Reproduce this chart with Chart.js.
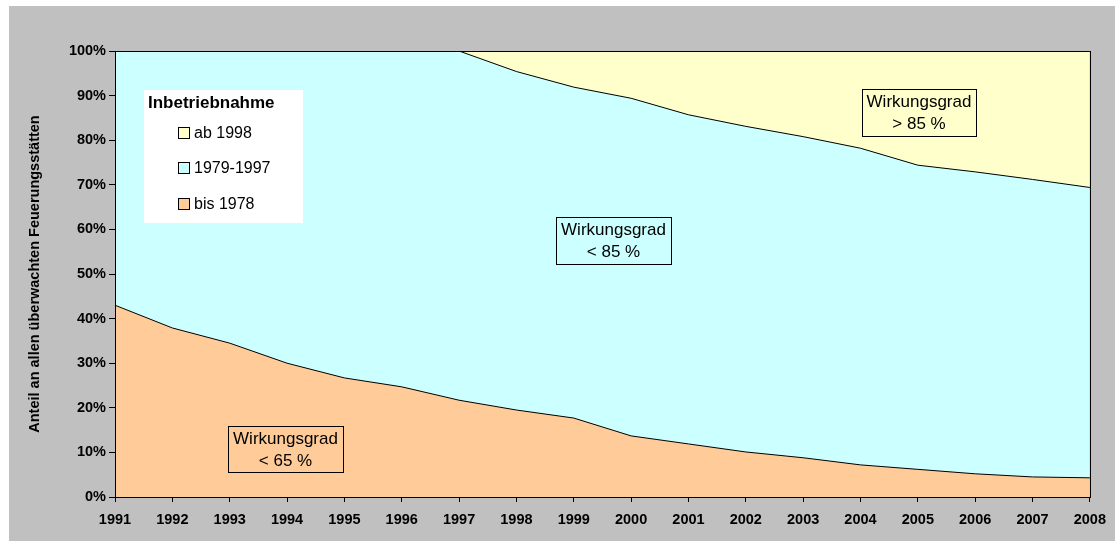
<!DOCTYPE html>
<html>
<head>
<meta charset="utf-8">
<script src="https://cdn.jsdelivr.net/npm/chart.js@4"></script>
<style>
  html, body { margin: 0; padding: 0; background: #ffffff; }
  #wrap { width: 1115px; height: 541px; position: relative; }
</style>
</head>
<body>
<div id="wrap"><canvas id="chart"></canvas></div>
<script>
// Jahre
var years = ['1991', '1992', '1993', '1994', '1995', '1996', '1997', '1998', '1999',
             '2000', '2001', '2002', '2003', '2004', '2005', '2006', '2007', '2008'];

// Anteile in %
var bis1978 = [43.0, 37.9, 34.5, 30.0, 26.7, 24.7, 21.7, 19.5, 17.7,
               13.7, 11.9, 10.1, 8.8, 7.2, 6.2, 5.2, 4.5, 4.3];
var ab1998 = [0, 0, 0, 0, 0, 0, 0, 4.6, 8.1,
              10.6, 14.3, 16.9, 19.2, 21.8, 25.6, 27.1, 28.8, 30.6];
var von1979bis1997 = bis1978.map(function (v, i) { return 100 - v - ab1998[i]; });

var yTicks = [0, 10, 20, 30, 40, 50, 60, 70, 80, 90, 100];

var notes = [
    { lines: ['Wirkungsgrad', '< 65 %'], x: 228, y: 426, w: 115, h: 46 },
    { lines: ['Wirkungsgrad', '< 85 %'], x: 556, y: 217, w: 115, h: 47 },
    { lines: ['Wirkungsgrad', '> 85 %'], x: 862, y: 89, w: 114, h: 47 }
];

// grauer Hintergrund + Rahmen der Zeichenfläche
var backgroundPlugin = {
    id: 'bg',
    beforeDraw: function (chart) {
        var c = chart.ctx;
        c.save();
        c.fillStyle = '#c0c0c0';
        c.fillRect(9, 6, 1106, 535);
        c.restore();
    },
    afterDraw: function (chart) {
        var c = chart.ctx, a = chart.chartArea;
        c.save();
        c.strokeStyle = '#000';
        c.lineWidth = 1;
        c.strokeRect(Math.round(a.left) + 0.5, Math.round(a.top) + 0.5,
                     Math.round(a.right - a.left), Math.round(a.bottom - a.top));

        // Legende
        c.fillStyle = '#fff';
        c.fillRect(144, 90, 159, 133);
        c.fillStyle = '#000';
        c.font = 'bold 17px "Liberation Sans", Arial, sans-serif';
        c.textBaseline = 'middle';
        c.fillText('Inbetriebnahme', 148, 103);
        c.font = '16px "Liberation Sans", Arial, sans-serif';
        var ds = chart.data.datasets.slice().reverse();
        var rows = [133, 168, 204];
        ds.forEach(function (d, i) {
            c.fillStyle = d.backgroundColor;
            c.fillRect(178.5, rows[i] - 5.5, 11, 11);
            c.strokeStyle = '#000';
            c.strokeRect(178.5, rows[i] - 5.5, 11, 11);
            c.fillStyle = '#000';
            c.fillText(d.label, 194, rows[i] + 1);
        });

        // Beschriftungen
        c.font = '17px "Liberation Sans", Arial, sans-serif';
        c.textAlign = 'center';
        notes.forEach(function (n) {
            c.strokeStyle = '#000';
            c.strokeRect(n.x + 0.5, n.y + 0.5, n.w, n.h);
            c.fillStyle = '#000';
            c.fillText(n.lines[0], n.x + n.w / 2, n.y + 13);
            c.fillText(n.lines[1], n.x + n.w / 2, n.y + 35);
        });
        c.restore();
    }
};

var ctx = document.getElementById('chart').getContext('2d');
var chart = new Chart(ctx, {
    type: 'line',
    data: {
        labels: years,
        datasets: [{
            label: 'bis 1978',
            data: bis1978,
            backgroundColor: '#ffcc99',
            borderColor: '#000',
            borderWidth: 1,
            fill: 'origin'
        }, {
            label: '1979-1997',
            data: von1979bis1997,
            backgroundColor: '#ccffff',
            borderColor: '#000',
            borderWidth: 1,
            fill: '-1'
        }, {
            label: 'ab 1998',
            data: ab1998,
            backgroundColor: '#ffffcc',
            borderColor: '#000',
            borderWidth: 1,
            fill: '-1'
        }]
    },
    options: {
        responsive: true,
        maintainAspectRatio: false,
        animation: false,
        elements: { point: { radius: 0 }, line: { tension: 0 } },
        layout: { padding: { left: 0, top: 51, right: 25, bottom: 0 } },
        plugins: {
            legend: { display: false },
            tooltip: { enabled: false }
        },
        scales: {
            x: {
                offset: false,
                grid: { drawOnChartArea: false, drawTicks: true, tickLength: 5, color: '#000' },
                border: { color: '#000' },
                ticks: {
                    color: '#000',
                    padding: 9,
                    maxRotation: 0,
                    autoSkip: false,
                    font: { family: '"Liberation Sans", Arial, sans-serif', size: 14.5, weight: 'bold' }
                },
                afterFit: function (s) { s.height = 44; }
            },
            y: {
                stacked: true,
                min: 0,
                max: 100,
                afterBuildTicks: function (s) {
                    s.ticks = yTicks.map(function (v) { return { value: v }; });
                },
                grid: { drawOnChartArea: false, drawTicks: true, tickLength: 6, color: '#000' },
                border: { color: '#000' },
                ticks: {
                    color: '#000',
                    padding: 3,
                    callback: function (v) { return v + '%'; },
                    font: { family: '"Liberation Sans", Arial, sans-serif', size: 14.5, weight: 'bold' }
                },
                title: {
                    display: true,
                    text: 'Anteil an allen überwachten Feuerungsstätten',
                    color: '#000',
                    padding: { top: 26, bottom: 0 },
                    font: { family: '"Liberation Sans", Arial, sans-serif', size: 14.5, weight: 'bold' }
                },
                afterFit: function (s) { s.width = 115; }
            }
        }
    },
    plugins: [backgroundPlugin]
});
</script>
</body>
</html>
